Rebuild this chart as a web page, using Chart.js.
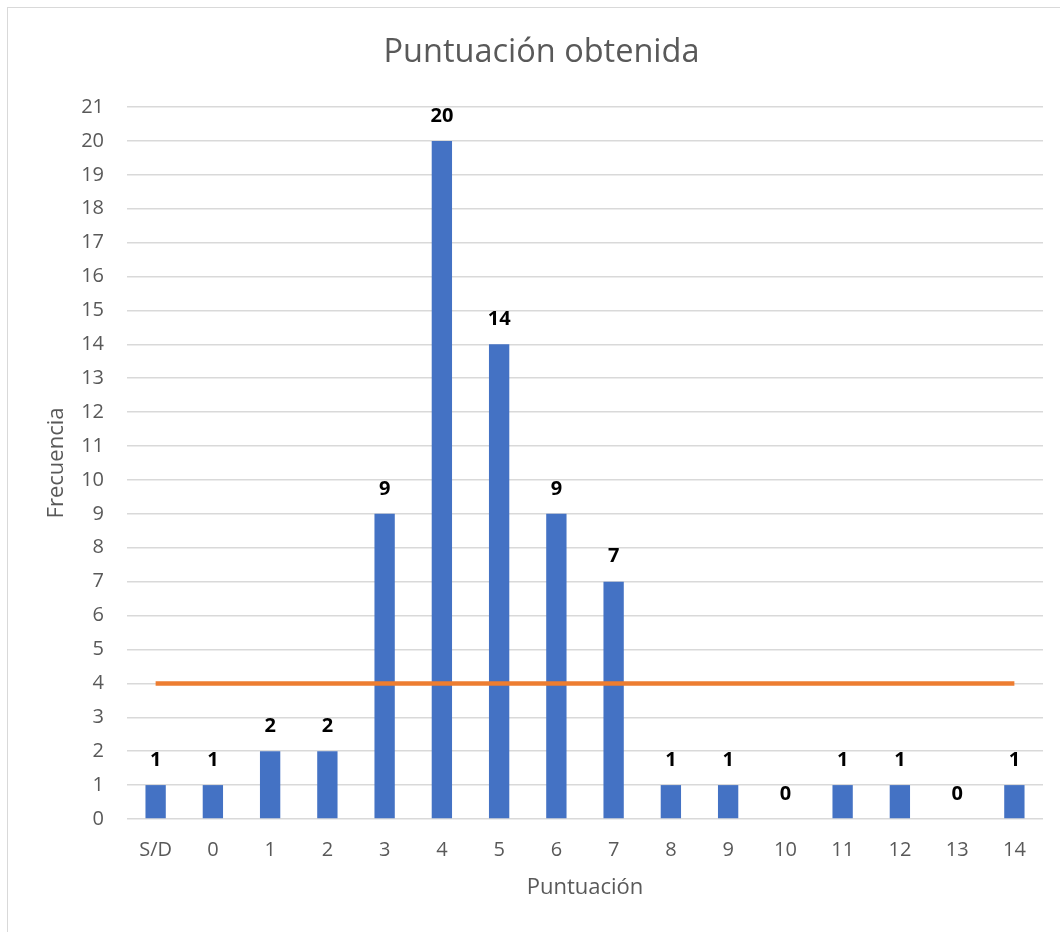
<!DOCTYPE html>
<html>
<head>
<meta charset="utf-8">
<script src="https://cdn.jsdelivr.net/npm/chart.js@4"></script>
<style>
  html, body { margin: 0; padding: 0; background: #fff; overflow: hidden; }
  #wrap { position: relative; width: 1060px; height: 932px; overflow: hidden; }
  #frame { position: absolute; left: 7px; top: 7px; width: 1100px; height: 1000px; border: 1.5px solid #d9d9d9; box-sizing: border-box; }
  canvas { position: absolute; left: 0; top: 0; }
</style>
</head>
<body>
<div id="wrap">
  <div id="frame"></div>
  <canvas id="chart" width="1060" height="932"></canvas>
</div>
<script>
const categories = ['S/D', '0', '1', '2', '3', '4', '5', '6', '7', '8', '9', '10', '11', '12', '13', '14'];
const frequencies = [1, 1, 2, 2, 9, 20, 14, 9, 7, 1, 1, 0, 1, 1, 0, 1];
const referenceLevel = [4, 4, 4, 4, 4, 4, 4, 4, 4, 4, 4, 4, 4, 4, 4, 4];
const yTicks = [0, 1, 2, 3, 4, 5, 6, 7, 8, 9, 10, 11, 12, 13, 14, 15, 16, 17, 18, 19, 20, 21];

const FONT = "'Open Sans', 'Noto Sans', sans-serif";
const TEXT = '#595959';

// Bold value labels above each bar of the frequency dataset
const barLabels = {
  id: 'barLabels',
  afterDatasetsDraw(chart) {
    const meta = chart.getDatasetMeta(1);
    const ctx = chart.ctx;
    ctx.save();
    ctx.font = "bold 20px " + FONT;
    ctx.fillStyle = '#000';
    ctx.textAlign = 'center';
    ctx.textBaseline = 'middle';
    meta.data.forEach((bar, i) => {
      ctx.fillText(String(frequencies[i]), bar.x, bar.y - 25);
    });
    ctx.restore();
  }
};

new Chart(document.getElementById('chart'), {
  type: 'bar',
  data: {
    labels: categories,
    datasets: [
      {
        type: 'line',
        data: referenceLevel,
        borderColor: '#ED7D31',
        borderWidth: 4.5,
        pointRadius: 0,
        fill: false,
        order: 0
      },
      {
        type: 'bar',
        data: frequencies,
        backgroundColor: '#4472C4',
        barPercentage: 0.355,
        categoryPercentage: 1,
        order: 1
      }
    ]
  },
  options: {
    responsive: false,
    animation: false,
    devicePixelRatio: 1,
    layout: { padding: { left: 40, right: 17, top: 0, bottom: 27 } },
    plugins: {
      legend: { display: false },
      tooltip: { enabled: false },
      title: {
        display: true,
        text: 'Puntuación obtenida',
        color: TEXT,
        font: { family: FONT, size: 32.5, weight: 'normal', lineHeight: 1.2 },
        padding: { top: 33, bottom: 35 }
      }
    },
    scales: {
      x: {
        offset: true,
        grid: { display: false, drawTicks: false },
        border: { display: false },
        ticks: { color: TEXT, font: { family: FONT, size: 20 }, padding: 19, maxRotation: 0 },
        title: { display: true, text: 'Puntuación', color: TEXT, font: { family: FONT, size: 22, lineHeight: 1.2 }, padding: { top: 4, bottom: 4 } },
        afterFit(scale) { scale.height = 86; }
      },
      y: {
        min: 0,
        max: 21,
        afterBuildTicks(scale) { scale.ticks = yTicks.map(v => ({ value: v })); },
        grid: { color: '#d9d9d9', lineWidth: 1.5, drawTicks: false },
        border: { display: false },
        ticks: { color: TEXT, font: { family: FONT, size: 20 }, padding: 23 },
        title: { display: true, text: 'Frecuencia', color: TEXT, font: { family: FONT, size: 22, lineHeight: 1.2 }, padding: { top: 4, bottom: 4 } },
        afterFit(scale) { scale.width = 87; }
      }
    }
  },
  plugins: [barLabels]
});
</script>
</body>
</html>
